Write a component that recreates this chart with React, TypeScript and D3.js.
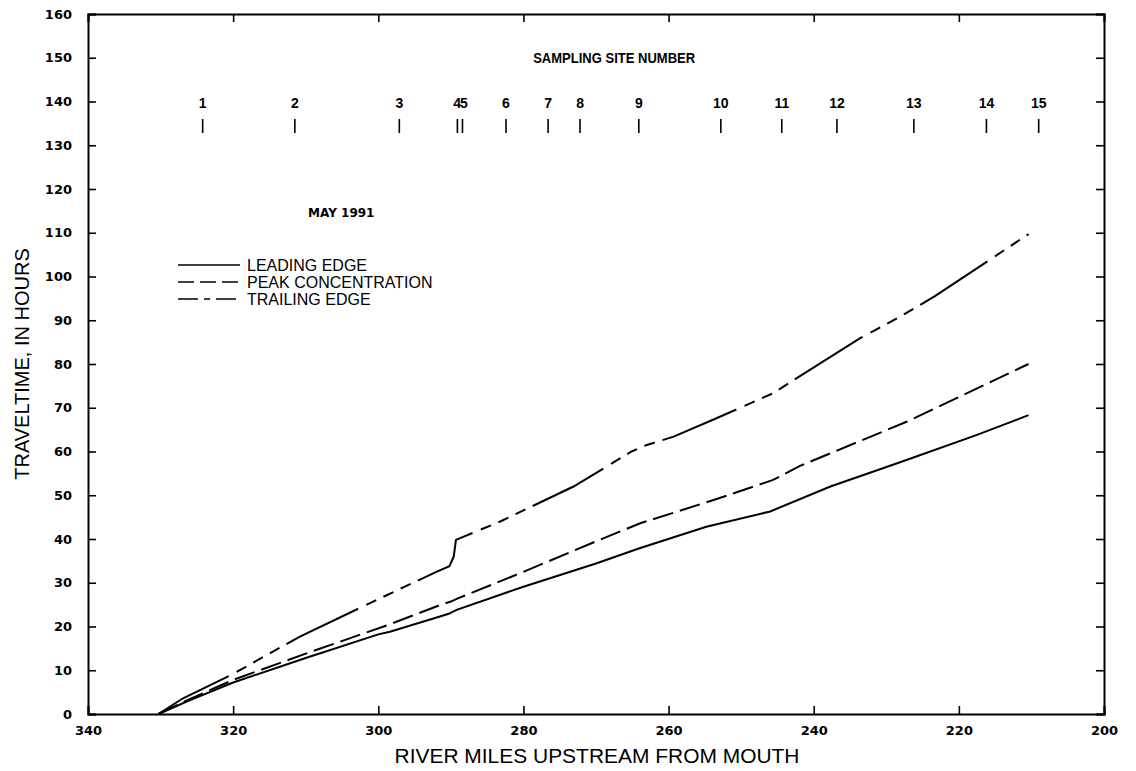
import { useEffect, useRef } from "react";
import * as d3 from "d3";

const WIDTH = 1136;
const HEIGHT = 771;
const MARGIN = { top: 14, right: 32, bottom: 57, left: 88 };

// river miles vs traveltime (hours)
const leadingMiles = [330.3, 326, 320, 310, 300, 298.4, 291.5, 290.3, 289.2, 280, 270, 264, 254.8, 246, 237.7, 228, 217.5, 210.4];
const leadingHours = [0, 3.1, 7.2, 12.8, 18.2, 18.8, 22.3, 22.9, 23.8, 29.1, 34.4, 37.9, 42.8, 46.3, 52, 57.6, 63.8, 68.3];

const peakMiles = [330.3, 326, 320, 310, 298.4, 291.5, 290, 289.2, 280, 268.5, 263.9, 253.8, 245.6, 241.9, 227.2, 210.4];
const peakHours = [0, 3.4, 7.8, 13.8, 20.5, 24.9, 25.7, 26.3, 32.5, 40.5, 43.6, 48.9, 53.5, 56.7, 66.8, 80];

const trailingMiles = [330.3, 326.9, 320.2, 310.8, 300.7, 292, 290.2, 289.6, 289.3, 283.2, 273.1, 265.1, 263, 259.3, 253.4, 245.6, 242.8, 233.6, 227.7, 223.3, 210.4];
const trailingHours = [0, 3.6, 9, 17.7, 25.7, 32.5, 33.8, 36, 39.8, 44, 52, 60, 61.5, 63.4, 67.6, 73.3, 76.3, 85.9, 91.2, 95.5, 109.7];

const siteNumbers = ["1", "2", "3", "4", "5", "6", "7", "8", "9", "10", "11", "12", "13", "14", "15"];
const siteMiles = [324.2, 311.5, 297.1, 289.1, 288.4, 282.4, 276.6, 272.2, 264.1, 252.8, 244.4, 236.8, 226.2, 216.2, 209];

const xTicks = [340, 320, 300, 280, 260, 240, 220, 200];
const yTicks = d3.range(0, 161, 10);

const series = [
  { name: "LEADING EDGE", miles: leadingMiles, hours: leadingHours, dash: "none" },
  { name: "PEAK CONCENTRATION", miles: peakMiles, hours: peakHours, dash: "21 7" },
  { name: "TRAILING EDGE", miles: trailingMiles, hours: trailingHours, dash: "80 9 11 8 11 8 11 8" },
];

const TICK_FONT = "'DejaVu Sans', Verdana, sans-serif";
const NARROW_FONT = "'Liberation Sans Narrow', 'Arial Narrow', 'Liberation Sans', sans-serif";
const LEGEND_FONT = "'Liberation Sans', Arial, sans-serif";

export default function App() {
  const axesRef = useRef<SVGGElement>(null);
  const boundsWidth = WIDTH - MARGIN.left - MARGIN.right;
  const boundsHeight = HEIGHT - MARGIN.top - MARGIN.bottom;

  const xScale = d3.scaleLinear().domain([340, 200]).range([0, boundsWidth]);
  const yScale = d3.scaleLinear().domain([0, 160]).range([boundsHeight, 0]);

  const lineGen = d3
    .line<[number, number]>()
    .x((d) => xScale(d[0]))
    .y((d) => yScale(d[1]));

  // axes drawn with d3, ticks point inward on all four sides
  useEffect(() => {
    const g = d3.select(axesRef.current);
    g.selectAll("*").remove();

    const left = g.append("g").call(d3.axisLeft(yScale).tickValues(yTicks).tickSize(-8).tickPadding(16));
    const right = g
      .append("g")
      .attr("transform", `translate(${boundsWidth},0)`)
      .call(d3.axisRight(yScale).tickValues(yTicks).tickSize(-8).tickFormat(() => ""));
    const bottom = g
      .append("g")
      .attr("transform", `translate(0,${boundsHeight})`)
      .call(d3.axisBottom(xScale).tickValues(xTicks).tickSize(-8).tickPadding(12));
    const top = g.append("g").call(d3.axisTop(xScale).tickValues(xTicks).tickSize(-8).tickFormat(() => ""));

    [left, right, bottom, top].forEach((a) => {
      a.select(".domain").attr("stroke", "#000").attr("stroke-width", 2);
      a.selectAll(".tick line").attr("stroke", "#000").attr("stroke-width", 1.6);
      a.selectAll(".tick text")
        .attr("fill", "#000")
        .style("font-family", TICK_FONT)
        .style("font-weight", "bold")
        .style("font-size", "13px");
    });
  }, [xScale, yScale, boundsWidth, boundsHeight]);

  return (
    <svg
      width={WIDTH}
      height={HEIGHT}
      style={{ position: "absolute", left: 0, top: 0, background: "#fff" }}
    >
      <rect width={WIDTH} height={HEIGHT} fill="#fff" />
      <g transform={`translate(${MARGIN.left},${MARGIN.top})`}>
        {series.map((s) => (
          <path
            key={s.name}
            d={lineGen(s.miles.map((m, i) => [m, s.hours[i]] as [number, number])) || ""}
            fill="none"
            stroke="#000"
            strokeWidth={2}
            strokeDasharray={s.dash}
          />
        ))}

        {/* sampling sites */}
        <text
          x={xScale(267.5)}
          y={49}
          textAnchor="middle"
          fontFamily={NARROW_FONT}
          fontWeight="bold"
          fontSize={14}
          textLength={162}
          lengthAdjust="spacingAndGlyphs"
        >
          SAMPLING SITE NUMBER
        </text>
        {siteMiles.map((m, i) => (
          <line
            key={siteNumbers[i]}
            x1={xScale(m)}
            x2={xScale(m)}
            y1={105}
            y2={119}
            stroke="#000"
            strokeWidth={1.6}
          />
        ))}
        {siteNumbers.map((n, i) => {
          // sites 4 and 5 share one label "45"
          if (n === "5") return null;
          const label = n === "4" ? "45" : n;
          const m = n === "4" ? (siteMiles[3] + siteMiles[4]) / 2 : siteMiles[i];
          return (
            <text
              key={n}
              x={xScale(m)}
              y={94}
              textAnchor="middle"
              fontFamily={NARROW_FONT}
              fontWeight="bold"
              fontSize={14}
              letterSpacing={n === "4" ? -1 : 0}
            >
              {label}
            </text>
          );
        })}

        <text x={xScale(305.1)} y={203} textAnchor="middle" fontFamily={TICK_FONT} fontWeight="bold" fontSize={12}>
          MAY 1991
        </text>

        {/* legend */}
        {series.map((s, i) => (
          <g key={s.name} transform={`translate(90,${251 + i * 17})`}>
            <line
              x1={0}
              x2={62}
              y1={0}
              y2={0}
              stroke="#000"
              strokeWidth={1.6}
              strokeDasharray={i === 0 ? "none" : i === 1 ? "16 6" : "20 6 6 6"}
            />
            <text x={69} y={6} fontFamily={LEGEND_FONT} fontSize={16}>
              {s.name}
            </text>
          </g>
        ))}

        <g ref={axesRef} />
      </g>

      <text
        x={597}
        y={763}
        textAnchor="middle"
        fontFamily={NARROW_FONT}
        fontSize={20}
        textLength={405}
        lengthAdjust="spacingAndGlyphs"
      >
        RIVER MILES UPSTREAM FROM MOUTH
      </text>
      <text
        transform={`translate(29,${MARGIN.top + boundsHeight / 2}) rotate(-90)`}
        textAnchor="middle"
        fontFamily={NARROW_FONT}
        fontSize={20}
      >
        TRAVELTIME, IN HOURS
      </text>
    </svg>
  );
}
